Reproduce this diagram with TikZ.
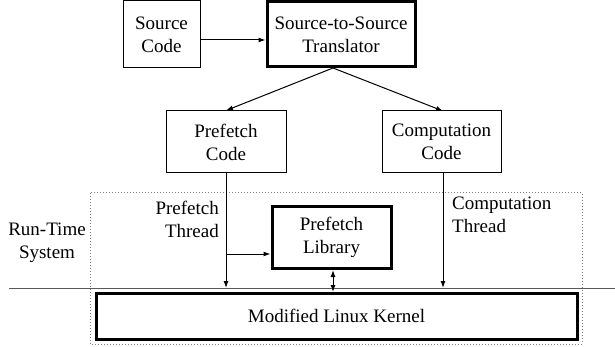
\documentclass[tikz,border=0pt]{standalone}
\usepackage{fontspec}
\setmainfont{Liberation Serif}
\usetikzlibrary{arrows.meta}
\begin{document}
\begin{tikzpicture}[x=1pt,y=-1pt,
  every node/.style={font=\fontsize{19}{23}\selectfont, inner sep=0pt},
  thinbox/.style={draw, line width=1pt, align=center},
  thickbox/.style={draw, line width=3pt, align=center},
  conn/.style={line width=1pt, -{Latex[length=7pt,width=5pt]}},
  lbl/.style={align=left}]
\useasboundingbox (0,0) rectangle (615,347);
% run-time system dotted region
\draw[dotted, line width=1pt, gray] (90,193) rectangle (582,344);
% boundary line
\coordinate (hl) at (9,288);
\coordinate (hr) at (615,288);
\draw[line width=1pt, gray!70!black] (hl) -- (hr);
% nodes
\node[thinbox, minimum width=77pt, minimum height=67pt] (src) at (161.5,34.5) {Source\\Code};
\node[thickbox, minimum width=148pt, minimum height=65pt] (tr) at (341,34.5) {Source-to-Source\\Translator};
\node[thinbox, minimum width=120pt, minimum height=62pt] (pc) at (226,142) {Prefetch\\Code};
\node[thinbox, minimum width=119pt, minimum height=62pt] (cc) at (441.5,142) {Computation\\Code};
\node[thickbox, minimum width=119pt, minimum height=61pt] (lib) at (331.5,237.5) {Prefetch\\Library};
\node[thickbox, minimum width=481pt, minimum height=46pt] (ker) at (336.5,316) {Modified Linux Kernel};
% labels
\node[align=right, anchor=east] (ptl) at (219,219) {Prefetch\\Thread};
\node[align=left, anchor=west] (ctl) at (452,215) {Computation\\Thread};
\node[align=center] (rts) at (47,243) {Run-Time\\System};
% connectors
\draw[conn] (src.east |- 0,40) -- (tr.west |- 0,40);
\coordinate (tb) at (333,68);
\draw[conn] (tb) -- (pc.north);
\draw[conn] (tb) -- (443,111);
\coordinate (pthr) at (226,288);
\draw[conn] (pc.south) -- (pthr);
\coordinate (br) at (226,254);
\draw[conn] (br) -- (lib.west |- br);
\coordinate (cthr) at (443,288);
\draw[conn] (cc.south -| cthr) -- (cthr);
\draw[line width=1pt, {Latex[length=7pt,width=5pt]}-{Latex[length=7pt,width=5pt]}] (333,270) -- (333,292);
\end{tikzpicture}
\end{document}
